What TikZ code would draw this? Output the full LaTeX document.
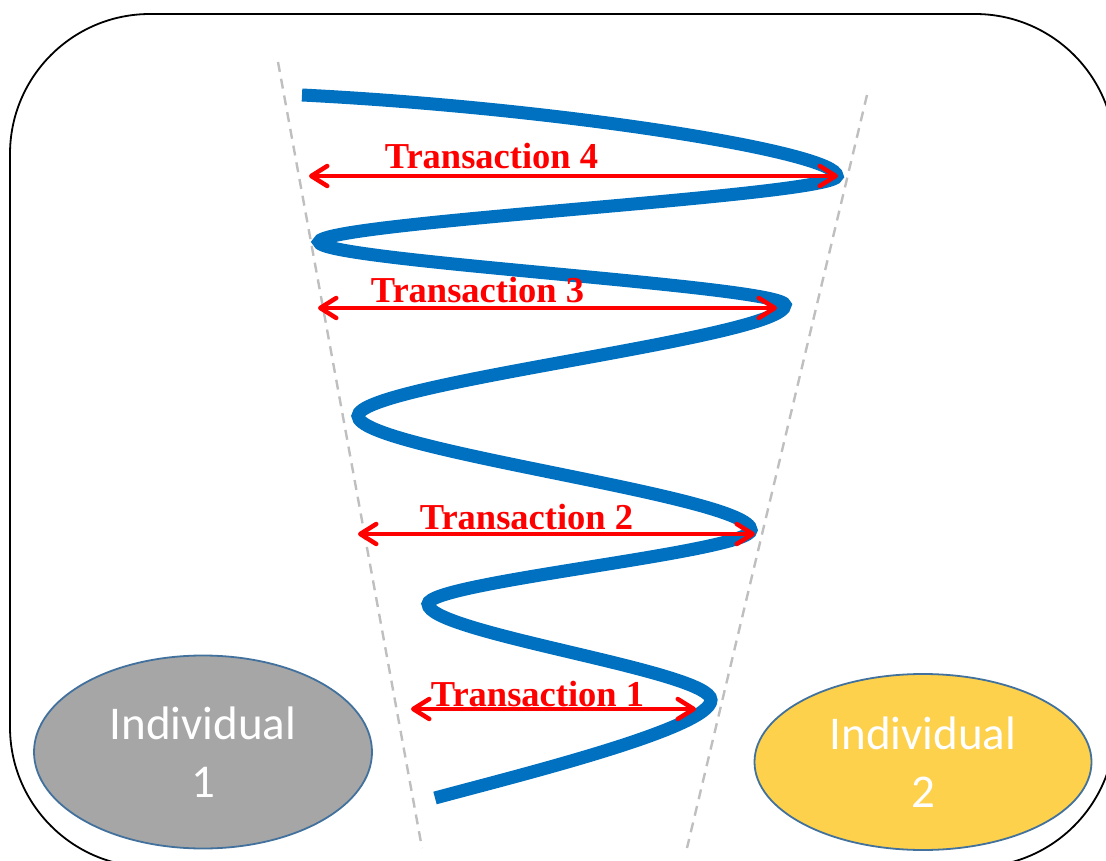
\documentclass[tikz,border=0pt]{standalone}
\usepackage{fontspec}
\newfontfamily\namefont{Carlito}
\newfontfamily\dealfont{Liberation Serif}
\usetikzlibrary{shapes.geometric,arrows.meta}
\definecolor{spiralblue}{HTML}{0070C0}
\definecolor{guidegray}{HTML}{BFBFBF}
\definecolor{edgeblue}{HTML}{41719C}
\definecolor{onegray}{HTML}{A6A6A6}
\definecolor{twogold}{HTML}{FDD14B}

\begin{document}
\begin{tikzpicture}[x=1pt, y=-1pt,
    frame/.style={draw=black, line width=1.8pt, rounded corners=140pt},
    guide/.style={draw=guidegray, line width=2.4pt, dash pattern=on 10pt off 7pt},
    spiral/.style={draw=spiralblue, line width=13pt},
    barb/.tip={Straight Barb[length=16pt, width=20pt, line cap=round, line join=round]},
    deal/.style={draw=red, line width=4.5pt, barb-barb},
    deallabel/.style={text=red, anchor=base, inner sep=0pt,
      font=\dealfont\bfseries\fontsize{36.5}{40}\selectfont},
    person/.style={ellipse, draw=edgeblue, line width=1.8pt, inner sep=0pt,
      minimum width=338pt, minimum height=193pt, text=white, align=center,
      font=\namefont\fontsize{47}{58}\selectfont}]
  % page = reference size, frame runs off right and bottom
  \useasboundingbox (0,0) rectangle (1106,861);
  \draw[frame] (10,14) rectangle (1115,867);

  % funnel guides
  \draw[guide] (278,62) -- (422,848);
  \draw[guide] (867,95) -- (687,848);

  % the spiral, tip to tip (vertical tangents at the tips)
  \draw[spiral] (302,95) .. controls (560,108) and (837,152) .. (837,176)
    .. controls (837,196) and (319,222) .. (319,242)
    .. controls (319,261) and (785,286) .. (785,305)
    .. controls (785,338) and (358,383) .. (358,416)
    .. controls (358,450) and (751,496) .. (751,530)
    .. controls (751,552) and (428,582) .. (428,604)
    .. controls (428,633) and (711,671) .. (711,700)
    .. controls (711,728) and (520,775) .. (435,798);

  % transaction 4
  \coordinate (d4l) at (309,176);
  \coordinate (d4r) at (838,176);
  \draw[deal] (d4l) -- (d4r);
  \node[deallabel] (deal4) at (491.5,169) {Transaction 4};
  % transaction 3
  \coordinate (d3l) at (318,308);
  \coordinate (d3r) at (777,308);
  \draw[deal] (d3l) -- (d3r);
  \node[deallabel] (deal3) at (477.5,302) {Transaction 3};
  % transaction 2
  \coordinate (d2l) at (358,534);
  \coordinate (d2r) at (755,534);
  \draw[deal] (d2l) -- (d2r);
  \node[deallabel] (deal2) at (526.5,529) {Transaction 2};
  % transaction 1
  \coordinate (d1l) at (411,709);
  \coordinate (d1r) at (696,709);
  \draw[deal] (d1l) -- (d1r);
  \node[deallabel] (deal1) at (537.5,706) {Transaction 1};

  % the two individuals
  \node[person, fill=onegray] (one) at (203,752) {Individual\\1};
  \node[person, fill=twogold, minimum width=337pt, minimum height=176pt] (two) at (923,762) {Individual\\2};
\end{tikzpicture}
\end{document}
